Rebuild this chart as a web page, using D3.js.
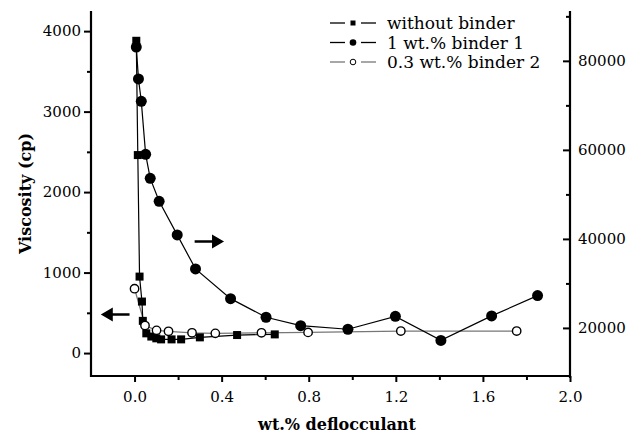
<!DOCTYPE html>
<html>
<head>
<meta charset="utf-8">
<script src="https://cdn.jsdelivr.net/npm/d3@7"></script>
<style>
  body { margin: 0; background: #fff; }
</style>
</head>
<body>
<script>
var width = 635,
    height = 436;

// data
var xNoBinder = [0.008, 0.015, 0.023, 0.034, 0.038, 0.054, 0.077, 0.100, 0.122, 0.170, 0.214, 0.300, 0.471, 0.644];
var vNoBinder = [3880, 2460, 950, 640, 400, 245, 205, 183, 170, 170, 170, 195, 224, 232];

var xBinder1 = [0.008, 0.018, 0.031, 0.051, 0.072, 0.113, 0.196, 0.280, 0.441, 0.604, 0.763, 0.980, 1.198, 1.407, 1.640, 1.851];
var vBinder1 = [83100, 75950, 70900, 59000, 53600, 48450, 40900, 33260, 26580, 22400, 20500, 19700, 22600, 17200, 22700, 27260];

var xBinder2 = [0.0, 0.048, 0.101, 0.156, 0.264, 0.371, 0.583, 0.797, 1.223, 1.755];
var vBinder2 = [800, 342, 282, 270, 252, 245, 252, 257, 273, 273];

var legendLabels = ["without binder", "1 wt.% binder 1", "0.3 wt.% binder 2"];

var xTicks = [0, 0.4, 0.8, 1.2, 1.6, 2.0],
    xMinor = [0.2, 0.6, 1.0, 1.4, 1.8];
var yLTicks = [0, 1000, 2000, 3000, 4000],
    yLMinor = [500, 1500, 2500, 3500];
var yRTicks = [20000, 40000, 60000, 80000],
    yRMinor = [30000, 50000, 70000, 90000];

//serif font that is actually available here
var serif = "DejaVu Serif";

//plot frame
var left = 91, right = 570, top_ = 11, bottom = 376;

var svg = d3.select("body").append("svg")
    .attr("width", width)
    .attr("height", height)
    .attr("font-family", serif);

var x = d3.scaleLinear().domain([-0.2, 2.0]).range([left, right]);
var yL = d3.scaleLinear().domain([-285, 4250]).range([bottom, top_]);
var yR = d3.scaleLinear().domain([9200, 91200]).range([bottom, top_]);

function zip(xs, vs) { return xs.map(function(d, i) { return {x: d, v: vs[i]}; }); }
var noBinder = zip(xNoBinder, vNoBinder),
    binder1 = zip(xBinder1, vBinder1),
    binder2 = zip(xBinder2, vBinder2);

// ================ Axes ================
function styleAxis(g, size) {
    g.attr("font-family", serif).attr("font-size", size);
    g.selectAll(".domain").remove();
    g.selectAll("line").attr("stroke", "#000").attr("stroke-width", 2);
    g.selectAll("text").attr("fill", "#000")
        .attr("font-family", serif).attr("font-size", size);
}

var gx = svg.append("g").attr("transform", "translate(0," + bottom + ")")
    .call(d3.axisBottom(x).tickValues(xTicks).tickFormat(d3.format(".1f")).tickSize(6).tickPadding(9));
styleAxis(gx, 15);
svg.append("g").attr("transform", "translate(0," + bottom + ")")
    .call(d3.axisBottom(x).tickValues(xMinor).tickFormat("").tickSize(4))
    .call(styleAxis, 1);

var gl = svg.append("g").attr("transform", "translate(" + left + ",0)")
    .call(d3.axisLeft(yL).tickValues(yLTicks).tickFormat(d3.format("d")).tickSize(7).tickPadding(3));
styleAxis(gl, 15);
svg.append("g").attr("transform", "translate(" + left + ",0)")
    .call(d3.axisLeft(yL).tickValues(yLMinor).tickFormat("").tickSize(4))
    .call(styleAxis, 1);

var gr = svg.append("g").attr("transform", "translate(" + right + ",0)")
    .call(d3.axisRight(yR).tickValues(yRTicks).tickFormat(d3.format("d")).tickSizeInner(-7).tickSizeOuter(0).tickPadding(8));
styleAxis(gr, 15);
svg.append("g").attr("transform", "translate(" + right + ",0)")
    .call(d3.axisRight(yR).tickValues(yRMinor).tickFormat("").tickSizeInner(-4).tickSizeOuter(0))
    .call(styleAxis, 1);

//axis lines
svg.append("line").attr("x1", left).attr("x2", left).attr("y1", top_).attr("y2", bottom + 1)
    .attr("stroke", "#000").attr("stroke-width", 2.2);
svg.append("line").attr("x1", right).attr("x2", right).attr("y1", top_).attr("y2", bottom + 2)
    .attr("stroke", "#000").attr("stroke-width", 2.2);
svg.append("line").attr("x1", left - 1).attr("x2", right + 1).attr("y1", bottom).attr("y2", bottom)
    .attr("stroke", "#000").attr("stroke-width", 2.2);

//axis titles
svg.append("text")
    .attr("transform", "translate(31," + ((top_ + bottom) / 2) + ") rotate(-90)")
    .attr("text-anchor", "middle")
    .attr("font-family", serif).attr("font-size", 16).attr("font-weight", "bold")
    .text("Viscosity (cp)");
svg.append("text")
    .attr("x", 337).attr("y", 430)
    .attr("text-anchor", "middle")
    .attr("font-family", serif).attr("font-size", 16).attr("font-weight", "bold")
    .text("wt.% deflocculant");

// ================ Series ================
var lineL = d3.line().x(function(d) { return x(d.x); }).y(function(d) { return yL(d.v); });
var lineR = d3.line().x(function(d) { return x(d.x); }).y(function(d) { return yR(d.v); });

svg.append("path").datum(binder2).attr("d", lineL)
    .attr("fill", "none").attr("stroke", "#777").attr("stroke-width", 1.3);
svg.append("path").datum(noBinder).attr("d", lineL)
    .attr("fill", "none").attr("stroke", "#000").attr("stroke-width", 1.2);
svg.append("path").datum(binder1).attr("d", lineR)
    .attr("fill", "none").attr("stroke", "#000").attr("stroke-width", 1.2);

svg.append("g").selectAll("rect").data(noBinder).enter().append("rect")
    .attr("x", function(d) { return x(d.x) - 4; })
    .attr("y", function(d) { return yL(d.v) - 4; })
    .attr("width", 8).attr("height", 8)
    .attr("fill", "#000");

svg.append("g").selectAll("circle").data(binder2).enter().append("circle")
    .attr("cx", function(d) { return x(d.x); })
    .attr("cy", function(d) { return yL(d.v); })
    .attr("r", 4.2)
    .attr("fill", "#fff").attr("stroke", "#000").attr("stroke-width", 1.4);

svg.append("g").selectAll("circle").data(binder1).enter().append("circle")
    .attr("cx", function(d) { return x(d.x); })
    .attr("cy", function(d) { return yR(d.v); })
    .attr("r", 5.5)
    .attr("fill", "#000");

// ================ Arrows ================
function arrow(x1, x2, yPix, dir) {
    // shaft from x1 to x2 (pixels), head at x2
    var hl = 12 * dir, hw = 7;
    return "M" + x1 + "," + (yPix - 1.3) + " L" + (x2 - hl) + "," + (yPix - 1.3) +
        " L" + (x2 - hl) + "," + (yPix - hw) + " L" + x2 + "," + yPix +
        " L" + (x2 - hl) + "," + (yPix + hw) + " L" + (x2 - hl) + "," + (yPix + 1.3) +
        " L" + x1 + "," + (yPix + 1.3) + " Z";
}
svg.append("path").attr("d", arrow(x(-0.023), x(-0.155), yL(480), -1)).attr("fill", "#000");
svg.append("path").attr("d", arrow(x(0.276), x(0.411), yR(39400), 1)).attr("fill", "#000");

// ================ Legend ================
var legend = svg.append("g").attr("transform", "translate(330,23)");
legendLabels.forEach(function(label, i) {
    var row = legend.append("g").attr("transform", "translate(0," + (i * 19.5) + ")");
    var col = i == 2 ? "#777" : "#000";
    row.append("line").attr("x1", 0).attr("x2", 15).attr("y1", 0).attr("y2", 0).attr("stroke", col).attr("stroke-width", 1.3);
    row.append("line").attr("x1", 31).attr("x2", 46).attr("y1", 0).attr("y2", 0).attr("stroke", col).attr("stroke-width", 1.3);
    if (i == 0)
        row.append("rect").attr("x", 20.5).attr("y", -2.5).attr("width", 5).attr("height", 5).attr("fill", "#000");
    else if (i == 1)
        row.append("circle").attr("cx", 23).attr("cy", 0).attr("r", 3.3).attr("fill", "#000");
    else
        row.append("circle").attr("cx", 23).attr("cy", 0).attr("r", 2.8).attr("fill", "#fff").attr("stroke", "#000").attr("stroke-width", 1);
    row.append("text").attr("x", 57).attr("y", 6)
        .attr("font-family", serif).attr("font-size", 17)
        .text(label);
});
</script>
</body>
</html>
